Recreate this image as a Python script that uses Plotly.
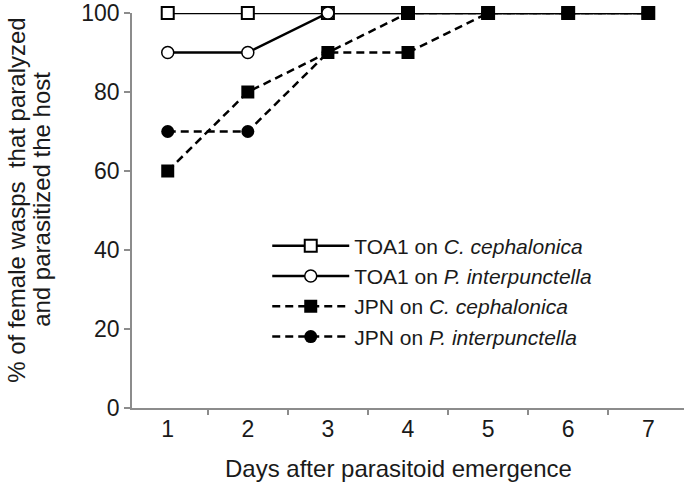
import plotly.graph_objects as go

days = ["1", "2", "3", "4", "5", "6", "7"]
toa1_cc = [100, 100, 100, 100, 100, 100, 100]
toa1_pi = [90, 90, 100, 100, 100, 100, 100]
jpn_cc = [60, 80, 90, 100, 100, 100, 100]
jpn_pi = [70, 70, 90, 90, 100, 100, 100]
y_ticks = [0, 20, 40, 60, 80, 100]
x_title = "Days after parasitoid emergence"
y_title_lines = ["% of female wasps  that paralyzed", "and parasitized the host"]

FONT = "Liberation Sans, Arial, sans-serif"
DASH = "8px,5px"
TXT = "#1a1a1a"
LW = 2.5

fig = go.Figure()
fig.add_trace(go.Scatter(
    x=days, y=toa1_cc, mode="lines+markers", name="TOA1 on <i>C. cephalonica</i>",
    line=dict(color="black", width=LW),
    marker=dict(symbol="square", size=12, color="white", line=dict(color="black", width=2)),
    legendrank=1, cliponaxis=False))
fig.add_trace(go.Scatter(
    x=days, y=toa1_pi, mode="lines+markers", name="TOA1 on <i>P. interpunctella</i>",
    line=dict(color="black", width=LW),
    marker=dict(symbol="circle", size=12, color="white", line=dict(color="black", width=1.5)),
    legendrank=2, cliponaxis=False))
fig.add_trace(go.Scatter(
    x=days, y=jpn_pi, mode="lines+markers", name="JPN on <i>P. interpunctella</i>",
    line=dict(color="black", width=LW, dash=DASH),
    marker=dict(symbol=["circle", "circle", "circle", "square", "circle", "circle", "circle"],
                size=13, color="black", line=dict(color="black", width=0)),
    legendrank=4, cliponaxis=False))
fig.add_trace(go.Scatter(
    x=days, y=jpn_cc, mode="lines+markers", name="JPN on <i>C. cephalonica</i>",
    line=dict(color="black", width=LW, dash=DASH),
    marker=dict(symbol="square", size=13, color="black", line=dict(color="black", width=0)),
    legendrank=3, cliponaxis=False))

axis_col = "#8c8c8c"
fig.update_layout(
    width=685, height=485,
    margin=dict(l=132, r=1, t=13, b=77),
    paper_bgcolor="white", plot_bgcolor="white",
    font=dict(family=FONT, size=23, color=TXT),
    showlegend=True,
    legend=dict(x=0.245, y=0.462, xanchor="left", yanchor="top",
                font=dict(family=FONT, size=21, color=TXT),
                itemwidth=77, bgcolor="rgba(0,0,0,0)", tracegroupgap=0),
    xaxis=dict(type="category", tickson="boundaries", ticks="outside", ticklen=5,
               tickcolor=axis_col, tickwidth=1.5, showline=True, linecolor=axis_col,
               linewidth=1.5, showgrid=False, zeroline=False, automargin=False,
               tickfont=dict(size=23), ticklabeloverflow="allow"),
    yaxis=dict(range=[0, 100], tickvals=y_ticks, ticks="outside", ticklen=6,
               tickcolor=axis_col, tickwidth=1.5, showline=True, linecolor=axis_col,
               linewidth=1.5, showgrid=False, zeroline=False, ticklabelstandoff=0,
               automargin=False, tickfont=dict(size=23), ticklabeloverflow="allow"),
    annotations=[
        dict(text=x_title, xref="paper", yref="paper", x=0.483, y=-0.153,
             xanchor="center", yanchor="middle", showarrow=False,
             font=dict(family=FONT, size=24, color=TXT)),
        dict(text=y_title_lines[0], xref="paper", yref="paper", x=-0.2083, y=0.527,
             xanchor="center", yanchor="middle", textangle=-90, showarrow=False,
             font=dict(family=FONT, size=24, color=TXT)),
        dict(text=y_title_lines[1], xref="paper", yref="paper", x=-0.163, y=0.527,
             xanchor="center", yanchor="middle", textangle=-90, showarrow=False,
             font=dict(family=FONT, size=24, color=TXT)),
    ],
)

fig.write_html("out.html", config={"displayModeBar": False},
               post_script="document.body.style.margin='0';")
